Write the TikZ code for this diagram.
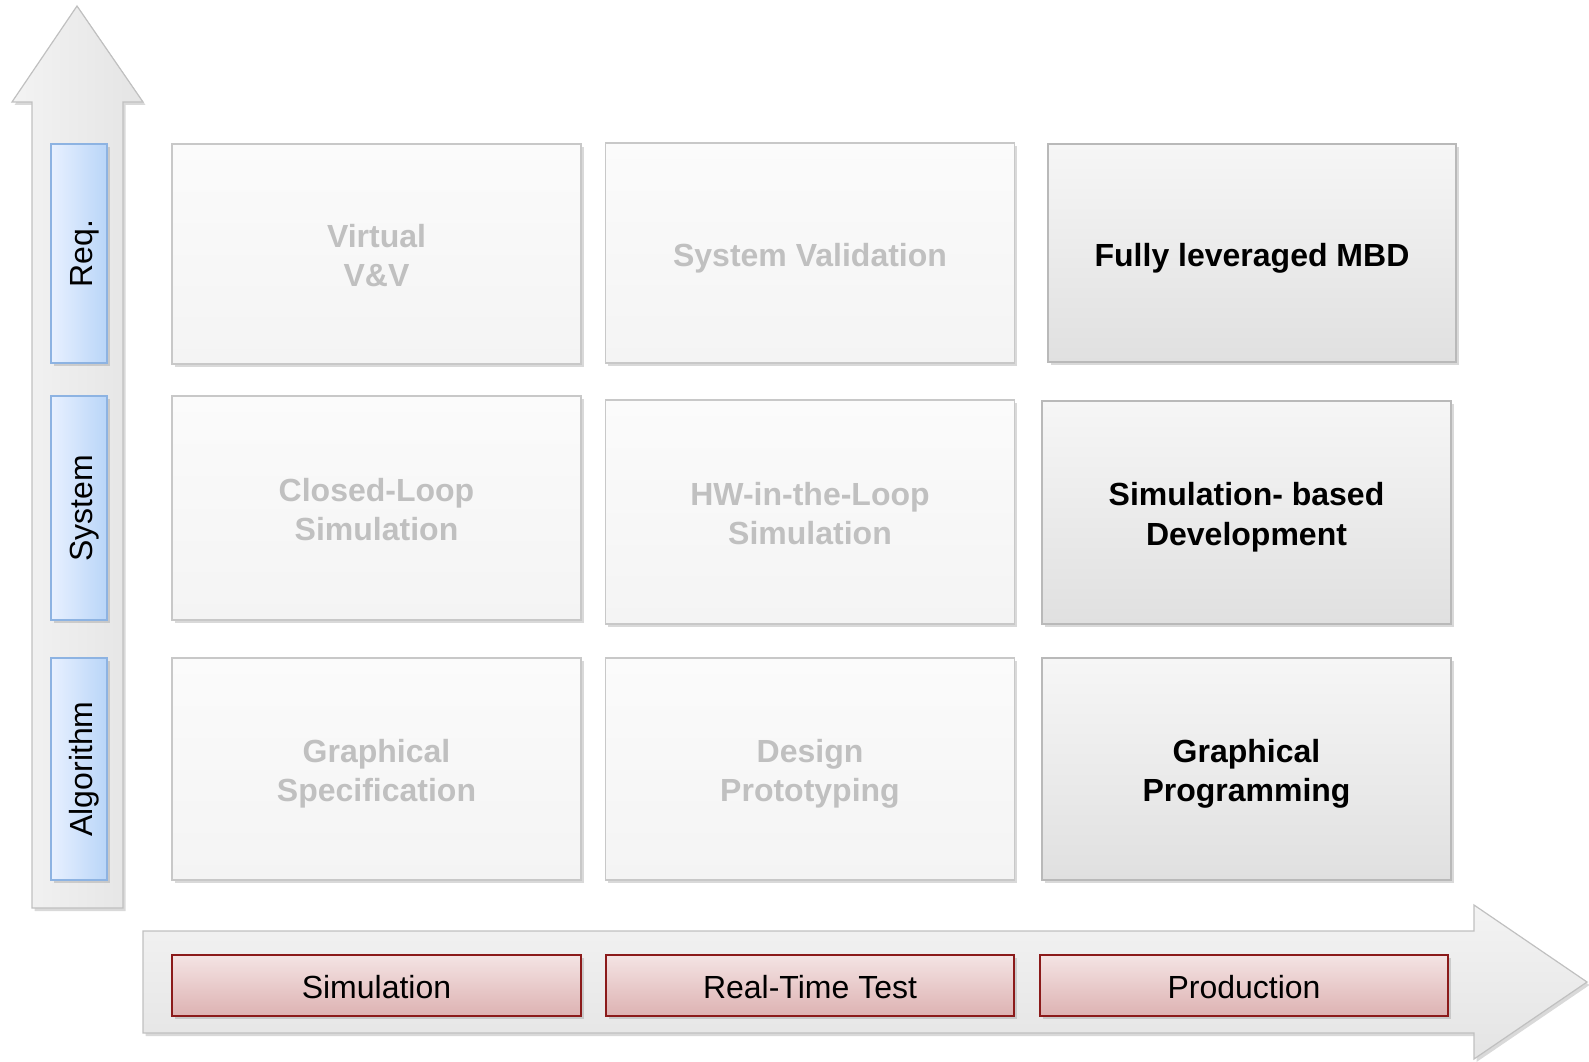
\documentclass[tikz,border=0pt]{standalone}
\usepackage{fontspec}
\setmainfont{Liberation Sans}
\definecolor{bordegris}{RGB}{200,200,200}
\definecolor{textogris}{RGB}{192,192,192}
\definecolor{celdaarriba}{RGB}{251,251,251}
\definecolor{celdaabajo}{RGB}{244,244,244}
\definecolor{activaarriba}{RGB}{246,246,246}
\definecolor{activaabajo}{RGB}{224,224,224}
\definecolor{activaborde}{RGB}{185,185,185}
\definecolor{azulclaro}{RGB}{232,241,255}
\definecolor{azuloscuro}{RGB}{185,213,248}
\definecolor{azulborde}{RGB}{141,179,226}
\definecolor{rojoclaro}{RGB}{244,228,228}
\definecolor{rojooscuro}{RGB}{221,178,178}
\definecolor{rojoborde}{RGB}{139,26,26}
\definecolor{flechaclara}{RGB}{243,243,243}
\definecolor{flechaoscura}{RGB}{228,228,228}
\definecolor{flechaborde}{RGB}{192,192,192}
\usepackage{tikz}
\usetikzlibrary{shadows}
\newcommand{\alto}{\rule[-7pt]{0pt}{40pt}}
\newcommand{\bajo}{\rule[-7pt]{0pt}{7pt}}

\begin{document}
\begin{tikzpicture}[x=1pt, y=-1pt,
    sombra/.style={drop shadow={shadow xshift=2.5pt, shadow yshift=-3pt, opacity=0.3}},
    texto/.style={font=\fontsize{32}{39.5}\selectfont, align=center, inner sep=0pt},
    celda/.style={texto, sombra, draw=bordegris, line width=1.2pt, top color=celdaarriba,
        bottom color=celdaabajo, minimum width=409pt, minimum height=220pt,
        text=textogris, font=\fontsize{32}{39.5}\selectfont\bfseries},
    activa/.style={celda, draw=activaborde, top color=activaarriba, bottom color=activaabajo, text=black},
    nivel/.style={texto, sombra, draw=azulborde, line width=1.5pt, left color=azulclaro,
        right color=azuloscuro, minimum width=56pt},
    fase/.style={texto, sombra, draw=rojoborde, line width=1.5pt, top color=rojoclaro,
        bottom color=rojooscuro, minimum width=408pt, minimum height=61pt},
    flecha/.style={sombra, draw=flechaborde, line width=1.2pt}]

    \useasboundingbox (0,0) rectangle (1589,1062);

    % Flecha vertical
    \draw[flecha, left color=flechaclara, right color=flechaoscura]
        (77,6) -- (143,102) -- (123,102) -- (123,908) -- (32,908) -- (32,102) -- (12,102) -- cycle;

    % Flecha horizontal
    \draw[flecha, top color=flechaclara, bottom color=flechaoscura]
        (143,931) -- (1474,931) -- (1474,905) -- (1587,982) -- (1474,1059) -- (1474,1033) -- (143,1033) -- cycle;

    % Niveles
    \node[nivel, minimum height=219pt] (req) at (79,253.5) {\rotatebox{90}{\alto Req.}};
    \node[nivel, minimum height=224pt] (sistema) at (79,508) {\rotatebox{90}{\alto System}};
    \node[nivel, minimum height=222pt] (algoritmo) at (79,769) {\rotatebox{90}{\alto Algorithm}};

    % Fases
    \node[fase, minimum width=409pt] (simulacion) at (376.5,985.5) {\alto Simulation};
    \node[fase] (tiemporeal) at (810,985.5) {\alto Real-Time Test};
    \node[fase] (produccion) at (1244,985.5) {\alto Production};

    % Celdas
    \node[celda] (vv) at (376.5,254) {\alto Virtual\\V\&V\bajo};
    \node[celda] (validacion) at (810,253) {\alto System Validation};
    \node[activa, minimum width=408pt, minimum height=218pt] (mbd) at (1252,253) {\alto Fully leveraged MBD};

    \node[celda, minimum height=224pt] (lazo) at (376.5,508) {\alto Closed-Loop\\Simulation\bajo};
    \node[celda, minimum height=224pt] (hil) at (810,512) {\alto HW-in-the-Loop\\Simulation\bajo};
    \node[activa, minimum height=223pt] (desarrollo) at (1246.5,512.5) {\alto Simulation- based\\Development\bajo};

    \node[celda, minimum height=222pt] (especificacion) at (376.5,769) {\alto Graphical\\Specification\bajo};
    \node[celda, minimum height=222pt] (prototipo) at (810,769) {\alto Design\\Prototyping\bajo};
    \node[activa, minimum height=222pt] (programacion) at (1246.5,769) {\alto Graphical\\Programming\bajo};
\end{tikzpicture}
\end{document}
